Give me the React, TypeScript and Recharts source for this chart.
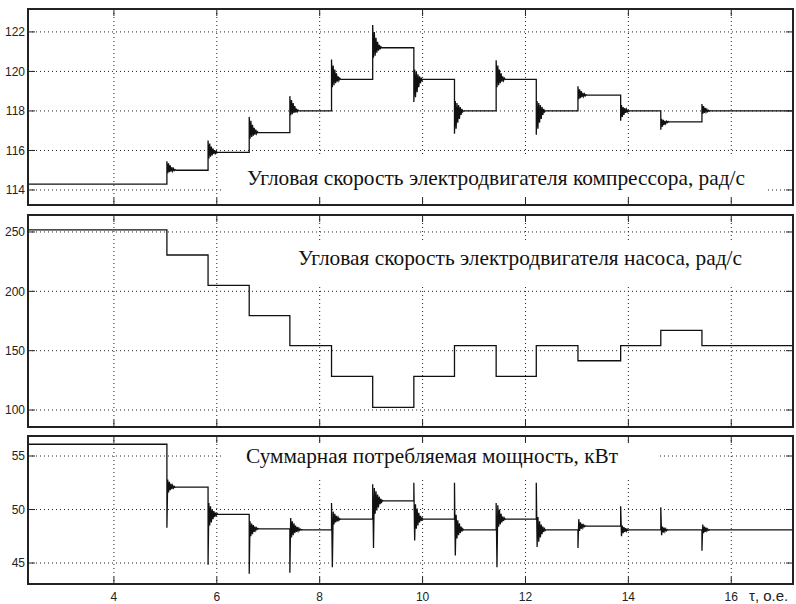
import { LineChart, Line, XAxis, YAxis, CartesianGrid } from "recharts";

// моменты переключения, о.е.
const stepTimes = [5.03, 5.83, 6.63, 7.42, 8.23, 9.03, 9.83, 10.62, 11.43, 12.21, 13.02, 13.85, 14.63, 15.43];
const tStart = 2.33;
const tEnd = 17.2;
const timeTicks = [4, 6, 8, 10, 12, 14, 16];

// угловая скорость компрессора, рад/с
const compressorStart = 114.3;
const compressorLevels = [115.0, 115.9, 116.9, 118.0, 119.6, 121.2, 119.6, 118.0, 119.6, 118.0, 118.8, 118.0, 117.45, 118.0];
const compressorRinging = [
  [115.45, 114.85, 115.35, 114.9, 115.25, 114.93, 115.15, 114.96, 115.08, 114.98, 115.03, 115.0],
  [116.5, 115.6, 116.35, 115.68, 116.2, 115.75, 116.1, 115.82, 116.02, 115.86, 115.95, 115.9],
  [117.7, 116.6, 117.5, 116.68, 117.3, 116.75, 117.15, 116.8, 117.05, 116.85, 116.95, 116.9],
  [118.75, 117.78, 118.55, 117.84, 118.4, 117.9, 118.25, 117.93, 118.12, 117.96, 118.04, 118.0],
  [120.6, 119.2, 120.3, 119.3, 120.1, 119.4, 119.9, 119.48, 119.75, 119.54, 119.66, 119.6],
  [122.35, 120.7, 122.0, 120.8, 121.7, 120.95, 121.5, 121.05, 121.35, 121.12, 121.25, 121.2],
  [118.45, 120.1, 118.7, 120.0, 118.95, 119.85, 119.2, 119.75, 119.4, 119.68, 119.55, 119.6],
  [116.85, 118.5, 117.1, 118.4, 117.4, 118.3, 117.6, 118.2, 117.8, 118.1, 117.95, 118.0],
  [120.57, 119.2, 120.3, 119.3, 120.1, 119.4, 119.9, 119.48, 119.75, 119.54, 119.66, 119.6],
  [116.8, 118.5, 117.1, 118.4, 117.4, 118.3, 117.6, 118.2, 117.8, 118.1, 117.95, 118.0],
  [119.25, 118.6, 119.1, 118.65, 119.0, 118.7, 118.92, 118.74, 118.86, 118.77, 118.82, 118.8],
  [117.5, 118.3, 117.7, 118.2, 117.8, 118.15, 117.9, 118.08, 117.95, 118.03, 117.98, 118.0],
  [117.05, 117.6, 117.2, 117.55, 117.3, 117.5, 117.36, 117.48, 117.41, 117.47, 117.44, 117.45],
  [118.35, 117.85, 118.25, 117.9, 118.15, 117.95, 118.08, 117.97, 118.03, 117.99, 118.01, 118.0],
];
const compressorTicks = [114, 116, 118, 120, 122];

// угловая скорость насоса, рад/с
const pumpStart = 251.7;
const pumpLevels = [230.6, 205.0, 179.5, 154.3, 128.3, 102.3, 128.3, 154.3, 128.3, 154.3, 141.5, 154.3, 167.1, 154.3];
const pumpTicks = [100, 150, 200, 250];

// суммарная мощность, кВт
const powerStart = 56.1;
const powerLevels = [52.1, 49.55, 48.2, 48.1, 49.1, 50.8, 49.1, 48.1, 49.1, 48.1, 48.45, 48.1, 48.1, 48.1];
const powerRinging = [
  [48.3, 52.8, 51.6, 52.6, 51.8, 52.4, 51.9, 52.25, 52.0, 52.15, 52.06, 52.1],
  [44.85, 50.6, 48.5, 50.3, 48.8, 50.0, 49.1, 49.85, 49.3, 49.7, 49.45, 49.6],
  [44.0, 48.9, 47.5, 48.7, 47.7, 48.55, 47.9, 48.4, 48.05, 48.28, 48.15, 48.22],
  [44.1, 49.2, 47.4, 48.9, 47.6, 48.7, 47.8, 48.5, 47.9, 48.35, 48.0, 48.25, 48.05, 48.15, 48.08, 48.12],
  [50.6, 44.6, 49.8, 48.6, 49.6, 48.8, 49.4, 48.9, 49.25, 49.0, 49.15, 49.08],
  [52.35, 46.4, 52.0, 49.6, 51.7, 49.9, 51.4, 50.2, 51.2, 50.5, 51.0, 50.7, 50.85],
  [52.5, 47.1, 50.5, 48.2, 50.1, 48.5, 49.7, 48.8, 49.4, 48.95, 49.2, 49.08],
  [52.5, 45.7, 49.5, 47.3, 49.0, 47.6, 48.7, 47.8, 48.4, 47.95, 48.2, 48.08],
  [50.6, 44.6, 50.4, 48.4, 50.0, 48.6, 49.6, 48.8, 49.35, 48.95, 49.2, 49.08],
  [52.5, 46.5, 49.3, 47.0, 48.9, 47.4, 48.6, 47.7, 48.4, 47.9, 48.2, 48.05],
  [46.4, 49.1, 48.0, 48.8, 48.2, 48.65, 48.3, 48.55, 48.4, 48.48],
  [50.3, 47.5, 48.5, 47.8, 48.35, 47.9, 48.25, 47.98, 48.15, 48.05],
  [50.2, 47.6, 48.4, 47.85, 48.3, 47.95, 48.2, 48.02, 48.12, 48.08],
  [46.15, 48.6, 47.8, 48.4, 47.9, 48.3, 48.0, 48.18, 48.06, 48.12],
];
const powerTicks = [45, 50, 55];

const RING_DT = 0.016;

function buildSeries(start: number, levels: number[], ringing: number[][] | null) {
  const pts = [{ t: tStart, v: start }];
  let prev = start;
  stepTimes.forEach((t0, i) => {
    pts.push({ t: t0, v: prev });
    const ring = ringing ? ringing[i] : [];
    ring.forEach((v, k) => pts.push({ t: t0 + k * RING_DT, v }));
    pts.push({ t: t0 + ring.length * RING_DT, v: levels[i] });
    prev = levels[i];
  });
  pts.push({ t: tEnd, v: prev });
  return pts;
}

const W = 796;
const PLOT_LEFT = 28;
const PLOT_RIGHT = 793;
const PAD = 10;
const TICK = 7;
const SANS = "Liberation Sans, Arial, sans-serif";
const SERIF = "Liberation Serif, DejaVu Serif, Times New Roman, serif";

function Panel({ top, height, data, domain, ticks, labels }: any) {
  const plotTop = PAD;
  const plotBottom = PAD + height;

  const XTick = (p: any) => (
    <g>
      <line x1={p.x} x2={p.x} y1={plotBottom} y2={plotBottom - TICK} stroke="#222" />
      <line x1={p.x} x2={p.x} y1={plotTop} y2={plotTop + TICK} stroke="#222" />
      {labels && (
        <text x={p.x} y={plotBottom + 17} textAnchor="middle" fontSize={12} style={{ fontFamily: SANS }} fill="#222">
          {p.payload.value}
        </text>
      )}
    </g>
  );

  const YTick = (p: any) => (
    <g>
      <line x1={PLOT_LEFT} x2={PLOT_LEFT + TICK} y1={p.y} y2={p.y} stroke="#222" />
      <line x1={PLOT_RIGHT - TICK} x2={PLOT_RIGHT} y1={p.y} y2={p.y} stroke="#222" />
      <text x={PLOT_LEFT - 3} y={p.y} dy="0.35em" textAnchor="end" fontSize={12} style={{ fontFamily: SANS }} fill="#222">
        {p.payload.value}
      </text>
    </g>
  );

  return (
    <div style={{ position: "absolute", left: 0, top: top - PAD }}>
      <LineChart
        width={W}
        height={PAD + height + 22}
        data={data}
        margin={{ top: PAD, right: W - PLOT_RIGHT, bottom: 0, left: 0 }}
      >
        <CartesianGrid stroke="#222" strokeDasharray="1 3" />
        <XAxis
          type="number"
          dataKey="t"
          domain={[tStart, tEnd]}
          ticks={timeTicks}
          interval={0}
          allowDataOverflow
          height={22}
          axisLine={false}
          tickLine={false}
          tick={XTick}
        />
        <YAxis
          type="number"
          domain={domain}
          ticks={ticks}
          interval={0}
          allowDataOverflow
          width={PLOT_LEFT}
          axisLine={false}
          tickLine={false}
          tick={YTick}
        />
        <Line
          type="linear"
          dataKey="v"
          stroke="#111"
          strokeWidth={1.3}
          dot={false}
          isAnimationActive={false}
        />
      </LineChart>
    </div>
  );
}

export default function App() {
  const compressor = buildSeries(compressorStart, compressorLevels, compressorRinging);
  const pump = buildSeries(pumpStart, pumpLevels, null);
  const power = buildSeries(powerStart, powerLevels, powerRinging);
  const titleStyle = { fontFamily: SERIF, fontSize: 22 };

  return (
    <div style={{ position: "absolute", left: 0, top: 0, width: W, height: 604, background: "#fff", overflow: "hidden" }}>
      <Panel top={9} height={196} data={compressor} domain={[113.24, 123.16]} ticks={compressorTicks} />
      <Panel top={215} height={212} data={pump} domain={[85.7, 264.3]} ticks={pumpTicks} />
      <Panel top={436} height={148} data={power} domain={[43.04, 56.87]} ticks={powerTicks} labels />

      <svg width={W} height={604} style={{ position: "absolute", left: 0, top: 0 }}>
        <rect x={222} y={157} width={546} height={40} fill="#fff" />
        <rect x={274} y={240} width={493} height={47} fill="#fff" />
        <rect x={223} y={444} width={434} height={34} fill="#fff" />

        <text x={247} y={185} style={titleStyle} fill="#111" textLength={498} lengthAdjust="spacingAndGlyphs">
          Угловая скорость электродвигателя компрессора, рад/с
        </text>
        <text x={298} y={265} style={titleStyle} fill="#111" textLength={444} lengthAdjust="spacingAndGlyphs">
          Угловая скорость электродвигателя насоса, рад/с
        </text>
        <text x={246} y={463} style={titleStyle} fill="#111" textLength={372} lengthAdjust="spacingAndGlyphs">
          Суммарная потребляемая мощность, кВт
        </text>

        <rect x={PLOT_LEFT} y={9} width={PLOT_RIGHT - PLOT_LEFT} height={196} fill="none" stroke="#222" strokeWidth={2} />
        <rect x={PLOT_LEFT} y={215} width={PLOT_RIGHT - PLOT_LEFT} height={212} fill="none" stroke="#222" strokeWidth={2} />
        <rect x={PLOT_LEFT} y={436} width={PLOT_RIGHT - PLOT_LEFT} height={148} fill="none" stroke="#222" strokeWidth={2} />

        <text x={749} y={601} fontSize={15} style={{ fontFamily: SANS }} fill="#222">
          τ, о.е.
        </text>
      </svg>
    </div>
  );
}
